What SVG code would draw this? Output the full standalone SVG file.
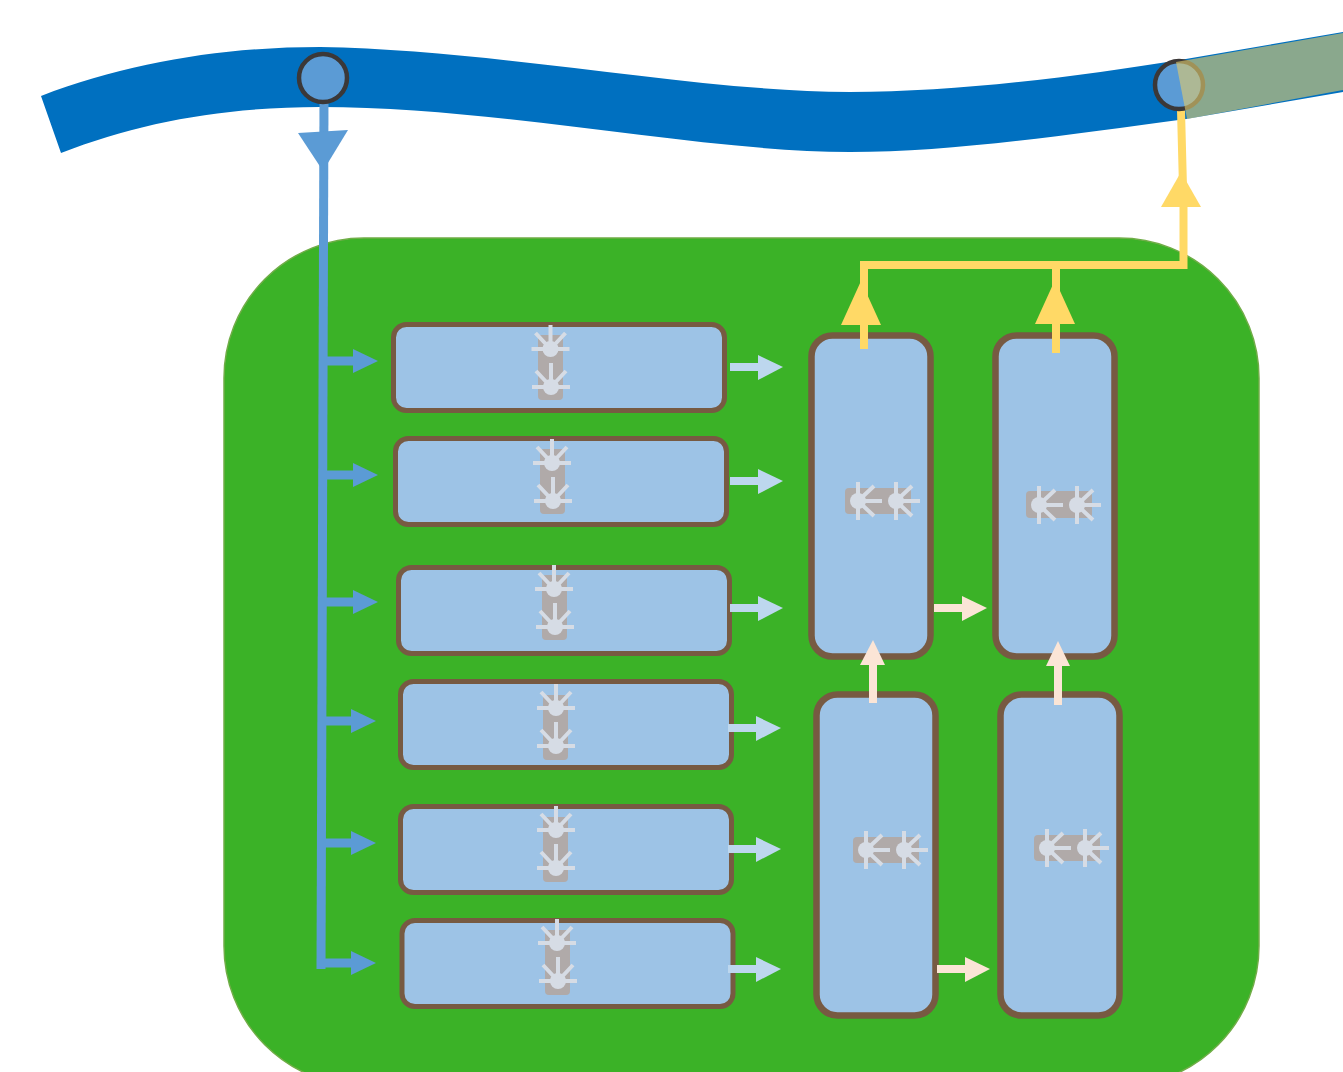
<svg xmlns="http://www.w3.org/2000/svg" width="1343" height="1072" viewBox="0 0 1343 1072">
<style>
.box{fill:#9dc3e6;stroke:#775a42;stroke-width:5}
.boxv{fill:#9dc3e6;stroke:#775a42;stroke-width:6.500}
.body{fill:#b0aaa9}
.leg{stroke:#d6dce5;stroke-width:4;fill:none}
.hub{fill:#d6dce5}
.bl{stroke:#5b9bd5;stroke-width:9;fill:none}
.blh{fill:#5b9bd5}
.lb{stroke:#bdd7ee;stroke-width:8;fill:none}
.lbh{fill:#bdd7ee}
.pe{stroke:#fbe5d6;stroke-width:8;fill:none}
.peh{fill:#fbe5d6}
.ye{stroke:#ffd966;stroke-width:8;fill:none}
.yeh{fill:#ffd966}
.port{fill:#5b9bd5;stroke:#3b3838;stroke-width:4.500}
</style>
<defs>
<g id="spider">
<path class="leg" d="M-19 0H19M0 0V-24M0 0L-15-16M0 0L15-16"/>
<circle class="hub" r="8"/>
</g>
</defs>
<g id="river">
<path fill="#0070c0" d="M41 96C130 62 225 47 320 47C500 50 700 92 850 92C960 92 1080 76 1180 60L1343 32V92L1186 119C1060 136 950 152 850 152C700 152 500 107 320 107C225 107 140 122 61 153Z"/>
</g>
<g id="region">
<rect x="224" y="238" width="1035" height="848" rx="140" ry="140" fill="#3bb227" stroke="#70ad47" stroke-width="1.500"/>
</g>
<g id="node-r1"><rect class="box" x="393.500" y="324.500" width="331" height="86" rx="13"/><rect class="body" x="538" y="335" width="25" height="65" rx="4"/><use href="#spider" x="550.500" y="349"/><use href="#spider" x="551" y="387"/></g>
<g id="node-r2"><rect class="box" x="395.500" y="438.500" width="331" height="86" rx="13"/><rect class="body" x="540" y="449" width="25" height="65" rx="4"/><use href="#spider" x="552" y="463"/><use href="#spider" x="553" y="501"/></g>
<g id="node-r3"><rect class="box" x="398.500" y="567.500" width="331" height="86" rx="13"/><rect class="body" x="542" y="575" width="25" height="65" rx="4"/><use href="#spider" x="554" y="589"/><use href="#spider" x="555" y="627"/></g>
<g id="node-r4"><rect class="box" x="400.500" y="681.500" width="331" height="86" rx="13"/><rect class="body" x="543" y="695" width="25" height="65" rx="4"/><use href="#spider" x="556" y="708"/><use href="#spider" x="556" y="746"/></g>
<g id="node-r5"><rect class="box" x="400.500" y="806.500" width="331" height="86" rx="13"/><rect class="body" x="543" y="817" width="25" height="65" rx="4"/><use href="#spider" x="556" y="830"/><use href="#spider" x="556" y="868"/></g>
<g id="node-r6"><rect class="box" x="402" y="920.500" width="331" height="86" rx="13"/><rect class="body" x="545" y="930" width="25" height="65" rx="4"/><use href="#spider" x="557" y="943"/><use href="#spider" x="558" y="981"/></g>
<g id="node-v1"><rect class="boxv" x="811.500" y="335.500" width="119" height="321" rx="21"/><rect class="body" x="845" y="488" width="66" height="26" rx="4"/><use href="#spider" transform="translate(858 501) rotate(90)"/><use href="#spider" transform="translate(896 501) rotate(90)"/></g>
<g id="node-v2"><rect class="boxv" x="995.500" y="335.500" width="119" height="321" rx="21"/><rect class="body" x="1026" y="491" width="66" height="27" rx="4"/><use href="#spider" transform="translate(1039 505) rotate(90)"/><use href="#spider" transform="translate(1077 505) rotate(90)"/></g>
<g id="node-v3"><rect class="boxv" x="816.500" y="694.500" width="119" height="321" rx="21"/><rect class="body" x="853" y="837" width="66" height="26" rx="4"/><use href="#spider" transform="translate(866 850) rotate(90)"/><use href="#spider" transform="translate(904 850) rotate(90)"/></g>
<g id="node-v4"><rect class="boxv" x="1000.500" y="694.500" width="119" height="321" rx="21"/><rect class="body" x="1034" y="835" width="66" height="26" rx="4"/><use href="#spider" transform="translate(1047 848) rotate(90)"/><use href="#spider" transform="translate(1085 848) rotate(90)"/></g>
<g id="connectors">
<path class="bl" d="M324 100L321 969"/>
<polygon class="blh" points="298,133 348,130 323,171"/>
<path class="bl" d="M323 361H355M323 475H355M323 602H355M322 721H353M322 843H353M321 963H353"/>
<polygon class="blh" points="353,349 378,361 353,373"/>
<polygon class="blh" points="353,463 378,475 353,487"/>
<polygon class="blh" points="353,590 378,602 353,614"/>
<polygon class="blh" points="351,709 376,721 351,733"/>
<polygon class="blh" points="351,831 376,843 351,855"/>
<polygon class="blh" points="351,951 376,963 351,975"/>
<path class="lb" d="M730 367H760M730 481H760M730 608H760M728 728H758M728 849H758M728 969H758"/>
<polygon class="lbh" points="758,355 783,367 758,380"/>
<polygon class="lbh" points="758,469 783,481 758,494"/>
<polygon class="lbh" points="758,596 783,608 758,621"/>
<polygon class="lbh" points="756,716 781,728 756,741"/>
<polygon class="lbh" points="756,837 781,849 756,862"/>
<polygon class="lbh" points="756,957 781,969 756,982"/>
<path class="pe" d="M934 608H964M937 969H967M873 703V663M1058 705V664"/>
<polygon class="peh" points="962,596 987,608 962,621"/>
<polygon class="peh" points="965,957 990,969 965,982"/>
<polygon class="peh" points="860,665 873,640 885,665"/>
<polygon class="peh" points="1046,666 1058,641 1070,666"/>
<path class="ye" d="M864 349V265H1183.500V207L1181 110"/>
<path class="ye" d="M1056 353V265"/>
<polygon class="yeh" points="1161,207 1181,172 1201,207"/>
<polygon class="yeh" points="841,325 861,281 881,325"/>
<polygon class="yeh" points="1035,324 1055,280 1075,324"/>
</g>
<g id="port-left"><circle class="port" cx="323" cy="78" r="24"/></g>
<g id="port-right"><circle class="port" cx="1179" cy="85" r="24"/></g>
<g id="overlay">
<polygon fill="#e0cb6d" fill-opacity="0.615" points="1176,62 1343,33 1343,90 1187,119"/>
</g>
</svg>
